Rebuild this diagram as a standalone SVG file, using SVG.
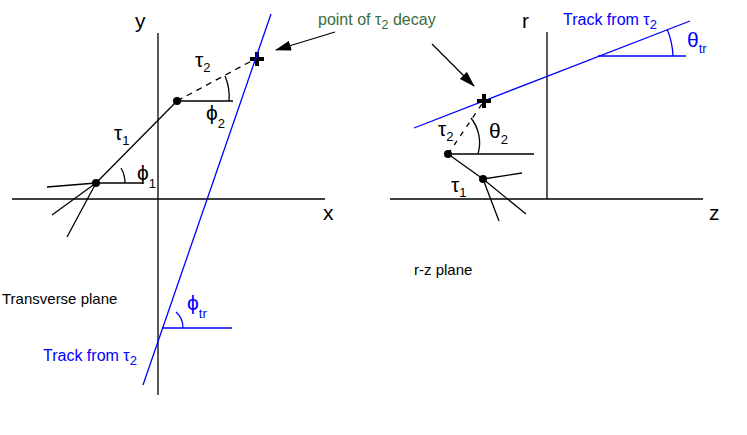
<svg xmlns="http://www.w3.org/2000/svg" width="747" height="435" viewBox="0 0 747 435">
<style>
.k{stroke:#000;stroke-width:1.3;fill:none}
.b{stroke:#0000ff;stroke-width:1.3;fill:none}
.t{font-family:"Liberation Sans",Arial,sans-serif;font-size:21px;fill:#000}
.s{font-family:"Liberation Sans",Arial,sans-serif;font-size:15px;fill:#000}
.g{font-family:"Liberation Sans",Arial,sans-serif;font-size:16px;fill:#3a6e3a}
.bl{font-family:"Liberation Sans",Arial,sans-serif;font-size:16px;fill:#0000ff}
.sub{font-size:13px}
</style>
<defs>
<marker id="ah" markerWidth="16" markerHeight="10" refX="15" refY="5" orient="auto" markerUnits="userSpaceOnUse" viewBox="0 0 16 10"><path d="M0,0 L16,5 L0,10 Z" fill="#000"/></marker>
</defs>
<g id="left-axes">
<line class="k" x1="158" y1="33" x2="158" y2="395"/>
<line class="k" x1="12" y1="199" x2="325" y2="199"/>
<text class="t" x="135" y="28">y</text>
<text class="t" x="323" y="220">x</text>
</g>
<g id="left-tracks">
<line class="k" x1="96" y1="183" x2="177" y2="101"/>
<line class="k" x1="177" y1="101" x2="257" y2="58" stroke-dasharray="6,5"/>
<line class="k" x1="96" y1="183" x2="143" y2="183"/>
<line class="k" x1="177" y1="101" x2="233" y2="101"/>
<line class="k" x1="96" y1="183" x2="47" y2="187"/>
<line class="k" x1="96" y1="183" x2="52" y2="215"/>
<line class="k" x1="96" y1="183" x2="67" y2="237"/>
<path class="k" d="M125,183 A29,29 0 0 0 121,168"/>
<path class="k" d="M229,101 A52,52 0 0 0 225,76"/>
<circle cx="96" cy="183" r="4" fill="#000"/>
<circle cx="177" cy="101" r="4" fill="#000"/>
<path d="M257,52 V66 M250,59 H264" stroke="#000" stroke-width="4"/>
<text class="t" x="114" y="140">τ<tspan class="sub" dy="5">1</tspan></text>
<text class="t" x="137" y="180">ϕ<tspan class="sub" dy="8">1</tspan></text>
<text class="t" x="206" y="120">ϕ<tspan class="sub" dy="8">2</tspan></text>
<text class="t" x="195" y="67">τ<tspan class="sub" dy="5">2</tspan></text>
</g>
<g id="left-track-tau2">
<line class="b" x1="271" y1="14" x2="143" y2="385"/>
<line class="b" x1="162" y1="328" x2="232" y2="328"/>
<path class="b" d="M183,328 A21,21 0 0 0 176,312"/>
<text class="t" x="187" y="310" style="fill:#0000ff">ϕ<tspan class="sub" dy="8">tr</tspan></text>
<text class="bl" x="43" y="361">Track from τ<tspan class="sub" dy="4">2</tspan></text>
</g>
<g id="labels">
<text class="s" x="2" y="304">Transverse plane</text>
<text class="g" x="318" y="25">point of τ<tspan class="sub" dy="4">2</tspan><tspan dy="-4"> decay</tspan></text>
<text class="s" x="414" y="275">r-z plane</text>
</g>
<g id="connectors">
<line class="k" x1="335" y1="32" x2="276" y2="50" marker-end="url(#ah)"/>
<line class="k" x1="432" y1="44" x2="474" y2="86" marker-end="url(#ah)"/>
</g>
<g id="right-axes">
<line class="k" x1="547" y1="32" x2="547" y2="199"/>
<line class="k" x1="390" y1="199" x2="703" y2="199"/>
<text class="t" x="522" y="28">r</text>
<text class="t" x="709" y="220">z</text>
</g>
<g id="right-tracks">
<line class="b" x1="414" y1="128" x2="690" y2="21"/>
<line class="b" x1="598" y1="56" x2="686" y2="56"/>
<path class="b" d="M673,56 A75,75 0 0 0 667,29"/>
<text class="t" x="687" y="47" style="fill:#0000ff">θ<tspan class="sub" dy="6">tr</tspan></text>
<text class="bl" x="563" y="25">Track from τ<tspan class="sub" dy="4">2</tspan></text>
<line class="k" x1="448" y1="154" x2="483" y2="179"/>
<line class="k" x1="448" y1="154" x2="534" y2="154"/>
<line class="k" x1="448" y1="154" x2="484" y2="101" stroke-dasharray="5,6"/>
<line class="k" x1="483" y1="179" x2="522" y2="173"/>
<line class="k" x1="483" y1="179" x2="526" y2="214"/>
<line class="k" x1="483" y1="179" x2="499" y2="221"/>
<path class="k" d="M478,154 A40,40 0 0 0 471,118"/>
<circle cx="448" cy="154" r="4" fill="#000"/>
<circle cx="483" cy="179" r="4" fill="#000"/>
<path d="M484,94 V108 M477,101 H491" stroke="#000" stroke-width="4"/>
<text class="t" x="489" y="138">θ<tspan class="sub" dy="6">2</tspan></text>
<text class="t" x="438" y="136">τ<tspan class="sub" dy="5">2</tspan></text>
<text class="t" x="451" y="192">τ<tspan class="sub" dy="5">1</tspan></text>
</g>
</svg>
